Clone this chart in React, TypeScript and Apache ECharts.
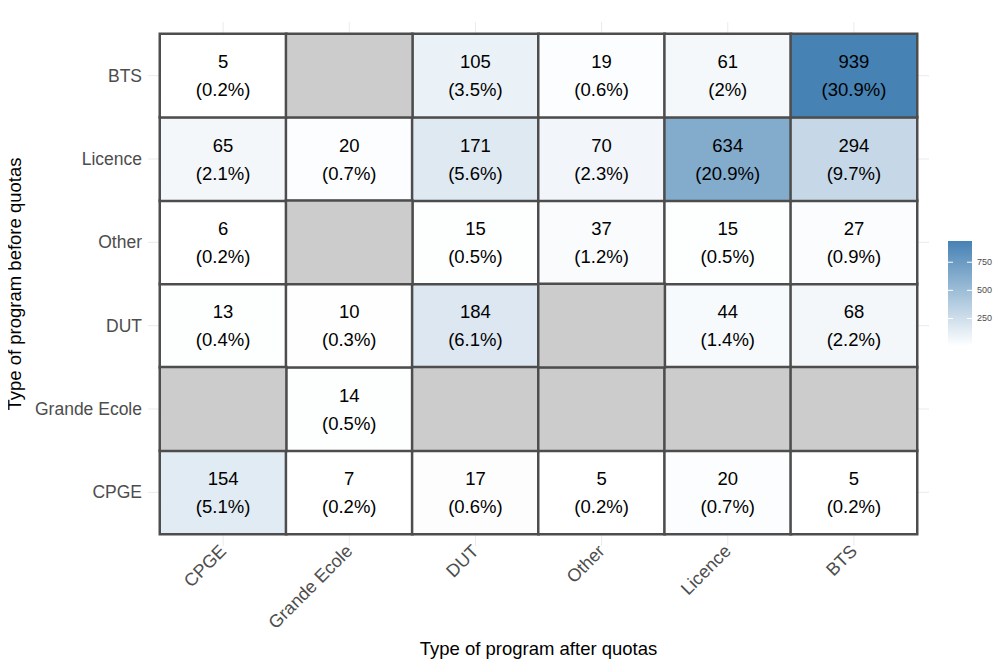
import React, { useEffect, useRef } from "react";
import * as echarts from "echarts";

const afterCats = ["CPGE", "Grande Ecole", "DUT", "Other", "Licence", "BTS"];
const beforeCats = ["CPGE", "Grande Ecole", "DUT", "Other", "Licence", "BTS"];

// rows: before (from bottom to top as in beforeCats), columns: after; null = no data
const countsCPGE = [154, 7, 17, 5, 20, 5];
const countsGrandeEcole = [null, 14, null, null, null, null];
const countsDUT = [13, 10, 184, null, 44, 68];
const countsOther = [6, null, 15, 37, 15, 27];
const countsLicence = [65, 20, 171, 70, 634, 294];
const countsBTS = [5, null, 105, 19, 61, 939];

const pctCPGE = ["5.1", "0.2", "0.6", "0.2", "0.7", "0.2"];
const pctGrandeEcole = [null, "0.5", null, null, null, null];
const pctDUT = ["0.4", "0.3", "6.1", null, "1.4", "2.2"];
const pctOther = ["0.2", null, "0.5", "1.2", "0.5", "0.9"];
const pctLicence = ["2.1", "0.7", "5.6", "2.3", "20.9", "9.7"];
const pctBTS = ["0.2", null, "3.5", "0.6", "2", "30.9"];

const legendTicks = [250, 500, 750];
const valueMin = 5;
const valueMax = 939;

const counts = [countsCPGE, countsGrandeEcole, countsDUT, countsOther, countsLicence, countsBTS];
const pcts = [pctCPGE, pctGrandeEcole, pctDUT, pctOther, pctLicence, pctBTS];

const CW = 989;
const CH = 654;

export default function App() {
  const ref = useRef<HTMLDivElement>(null);
  useEffect(() => {
    if (!ref.current) return;
    const chart = echarts.init(ref.current, null, { renderer: "svg" });
    const data: any[] = [];
    const naData: any[] = [];
    counts.forEach((row, yi) => {
      row.forEach((v, xi) => {
        if (v === null) naData.push([xi, yi, 0]);
        else data.push({ value: [xi, yi, v], pct: pcts[yi][xi] });
      });
    });
    const font = "Liberation Sans, Arial, sans-serif";
    const gridLeft = 152, gridRight = 80, gridTop = 26, gridBottom = 128;

    const option: any = {
      animation: false,
      textStyle: { fontFamily: font },
      grid: { left: gridLeft, right: gridRight, top: gridTop, bottom: gridBottom, outerBoundsMode: "none", containLabel: false },
      xAxis: {
        type: "category",
        data: afterCats,
        name: "Type of program after quotas",
        nameLocation: "middle",
        nameGap: 105,
        nameTextStyle: { fontSize: 18.5, color: "#000", fontFamily: font },
        axisLine: { show: false },
        axisTick: { show: false },
        splitLine: { show: false },
        axisLabel: { rotate: 45, fontSize: 18, color: "#4d4d4d", margin: 14, fontFamily: font },
      },
      yAxis: {
        type: "category",
        data: beforeCats,
        name: "Type of program before quotas",
        nameLocation: "middle",
        nameGap: 127,
        nameTextStyle: { fontSize: 18.5, color: "#000", fontFamily: font },
        axisLine: { show: false },
        axisTick: { show: false },
        splitLine: { show: false },
        axisLabel: { fontSize: 17.5, color: "#4d4d4d", margin: 18, fontFamily: font },
      },
      visualMap: [
        {
          show: false,
          type: "continuous",
          min: valueMin,
          max: valueMax,
          dimension: 2,
          seriesIndex: 0,
          inRange: { color: ["#FFFFFF", "#4682B4"] },
        },
        {
          show: false,
          type: "continuous",
          min: 0,
          max: 1,
          dimension: 2,
          seriesIndex: 1,
          inRange: { color: ["#CCCCCC", "#CCCCCC"] },
        },
      ],
      series: [
        {
          type: "heatmap",
          data,
          z: 3,
          itemStyle: { borderColor: "#4d4d4d", borderWidth: 2.5 },
          label: {
            show: true,
            fontSize: 18.5,
            lineHeight: 28,
            color: "#000",
            fontFamily: font,
            formatter: (p: any) => `${p.value[2]}\n(${p.data.pct}%)`,
          },
          emphasis: { disabled: true },
        },
        {
          type: "heatmap",
          data: naData,
          z: 3,
          itemStyle: { borderColor: "#4d4d4d", borderWidth: 2.5 },
          label: { show: false },
          emphasis: { disabled: true },
        },
      ],
    };
    chart.setOption(option);

    // background grid lines (extend slightly beyond tiles) and colour bar legend
    const graphics: any[] = [];
    const ext = 12;
    const x0 = gridLeft - ext, x1 = CW - gridRight + ext;
    const y0 = gridTop - ext, y1 = CH - gridBottom + ext;
    afterCats.forEach((c) => {
      const px = chart.convertToPixel({ gridIndex: 0 }, [c, beforeCats[0]]) as any;
      graphics.push({ type: "line", z: 0, shape: { x1: px[0], y1: y0, x2: px[0], y2: y1 }, style: { stroke: "#EBEBEB", lineWidth: 1 } });
    });
    beforeCats.forEach((c) => {
      const px = chart.convertToPixel({ gridIndex: 0 }, [afterCats[0], c]) as any;
      graphics.push({ type: "line", z: 0, shape: { x1: x0, y1: px[1], x2: x1, y2: px[1] }, style: { stroke: "#EBEBEB", lineWidth: 1 } });
    });

    const barX = 940, barW = 24, barTop = 233, barH = 105;
    graphics.push({
      type: "rect",
      z: 5,
      shape: { x: barX, y: barTop, width: barW, height: barH },
      style: {
        fill: new echarts.graphic.LinearGradient(0, 0, 0, 1, [
          { offset: 0, color: "#4682B4" },
          { offset: 1, color: "#FFFFFF" },
        ]),
      },
    });
    legendTicks.forEach((t) => {
      const y = barTop + barH * (1 - (t - valueMin) / (valueMax - valueMin));
      graphics.push({ type: "line", z: 6, shape: { x1: barX, y1: y, x2: barX + 5, y2: y }, style: { stroke: "#FFFFFF", lineWidth: 1 } });
      graphics.push({ type: "line", z: 6, shape: { x1: barX + barW - 5, y1: y, x2: barX + barW, y2: y }, style: { stroke: "#FFFFFF", lineWidth: 1 } });
      graphics.push({
        type: "text",
        z: 6,
        x: barX + barW + 5,
        y,
        style: { text: String(t), fontSize: 9, fill: "#4d4d4d", fontFamily: font, verticalAlign: "middle", align: "left" },
      });
    });
    chart.setOption({ graphic: graphics });

    return () => chart.dispose();
  }, []);
  return <div ref={ref} style={{ width: CW, height: CH }} />;
}
